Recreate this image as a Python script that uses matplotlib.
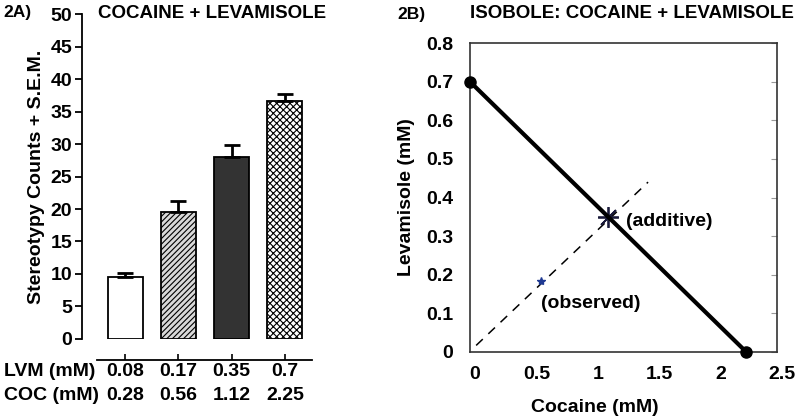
import numpy as np
import matplotlib
matplotlib.use("Agg")
import matplotlib.pyplot as plt
import matplotlib.transforms as mtrans

plt.rcParams['font.family'] = ['Liberation Sans', 'DejaVu Sans']
plt.rcParams['font.weight'] = 'bold'
plt.rcParams['axes.labelweight'] = 'bold'
plt.rcParams['hatch.linewidth'] = 0.8

# panel A data
lvm_labels = ['0.08', '0.17', '0.35', '0.7']
coc_labels = ['0.28', '0.56', '1.12', '2.25']
counts = [9.6, 19.6, 28.0, 36.6]
sem = [0.5, 1.6, 1.8, 1.1]

# panel B data
iso_x = [0.0, 2.25]
iso_y = [0.7, 0.0]
ray_x = [0.05, 1.45]
ray_y = [0.017, 0.44]
additive_pt = (1.12, 0.35)
observed_pt = (0.58, 0.185)

FS = 14

fig = plt.figure(figsize=(8, 4.18), dpi=100)

# ---- 2A bar chart
ax = fig.add_axes([0.1025, 0.189, 0.2875, 0.7775])
x = np.arange(len(counts))
faces = ['white', '#d9d9d9', '#333333', 'white']
hatches = [None, '//////', None, 'xxxxx']
for i in range(len(counts)):
    ax.bar(x[i], counts[i], 0.66, color=faces[i], edgecolor='black',
           hatch=hatches[i], linewidth=1.3)
ax.errorbar(x, counts, yerr=[np.zeros(len(sem)), sem], fmt='none',
            ecolor='black', elinewidth=2, capsize=6, capthick=2)
ax.set_xlim(-0.81, 3.51)
ax.set_ylim(0, 50)
ax.set_yticks(np.arange(0, 51, 5))
ax.tick_params(axis='y', labelsize=FS, width=1.3, length=5, pad=2)
ax.spines['top'].set_visible(False)
ax.spines['right'].set_visible(False)
ax.spines['left'].set_linewidth(1.3)
ax.spines['bottom'].set_position(('outward', 15))
ax.spines['bottom'].set_bounds(-0.52, 3.51)
ax.spines['bottom'].set_linewidth(1.3)
ax.set_xticks(x)
ax.set_xticklabels([])
ax.tick_params(axis='x', length=4, width=1.2, direction='in')
ax.set_ylabel('Stereotypy Counts + S.E.M.', fontsize=FS, labelpad=4)

tr = mtrans.blended_transform_factory(ax.transData, fig.transFigure)
for i in range(len(counts)):
    ax.text(x[i], 1 - 372 / 418, lvm_labels[i], transform=tr, ha='center',
            va='center', fontsize=FS)
    ax.text(x[i], 1 - 396 / 418, coc_labels[i], transform=tr, ha='center',
            va='center', fontsize=FS)
fig.text(4 / 800, 1 - 372 / 418, 'LVM (mM)', ha='left', va='center', fontsize=FS)
fig.text(4 / 800, 1 - 396 / 418, 'COC (mM)', ha='left', va='center', fontsize=FS)
fig.text(3 / 800, 1 - 13 / 418, '2A)', ha='left', va='center', fontsize=12.5)
fig.text(212 / 800, 1 - 14 / 418, 'COCAINE + LEVAMISOLE', ha='center',
         va='center', fontsize=13.5)

# ---- 2B isobole
ax2 = fig.add_axes([0.5875, 0.1579, 0.38375, 0.739])
ax2.plot(iso_x, iso_y, color='black', linewidth=3, marker='o', markersize=8,
         clip_on=False, zorder=3)
ax2.plot(ray_x, ray_y, color='black', linewidth=1.1, dashes=(6, 5))
ax2.plot(*additive_pt, marker=(8, 2, 0), markersize=15, color='#1a1a3a',
         markeredgewidth=1.3, linestyle='none')
ax2.plot(*observed_pt, marker='*', markersize=6, color='#1f3a93',
         linestyle='none')
ax2.text(1.27, 0.337, '(additive)', fontsize=FS, va='center', ha='left')
ax2.text(0.58, 0.125, '(observed)', fontsize=FS, va='center', ha='left')
ax2.set_xlim(0, 2.5)
ax2.set_ylim(0, 0.8)
ax2.set_xticks(np.arange(0, 2.51, 0.5))
ax2.set_xticklabels(['0', '0.5', '1', '1.5', '2', '2.5'])
ax2.set_yticks(np.arange(0, 0.81, 0.1))
ax2.set_yticklabels(['0', '0.1', '0.2', '0.3', '0.4', '0.5', '0.6', '0.7', '0.8'])
ax2.tick_params(axis='x', length=0, labelsize=FS, pad=10)
ax2.tick_params(axis='y', left=False, right=True, direction='in', length=4,
                color='#999999', labelsize=FS, pad=12)
for lab in ax2.get_xticklabels():
    lab.set_transform(lab.get_transform() +
                      mtrans.ScaledTranslation(5 / 100, 0, fig.dpi_scale_trans))
for sp in ax2.spines.values():
    sp.set_linewidth(1.2)
    sp.set_color('#333333')
ax2.set_ylabel('Levamisole (mM)', fontsize=FS, labelpad=8)
fig.text(595 / 800, 1 - 407 / 418, 'Cocaine (mM)', ha='center', va='center',
         fontsize=FS)
fig.text(397 / 800, 1 - 14 / 418, '2B)', ha='left', va='center', fontsize=12.5)
fig.text(632 / 800, 1 - 14 / 418, 'ISOBOLE: COCAINE + LEVAMISOLE', ha='center',
         va='center', fontsize=13.5)

fig.savefig('out.png', dpi=100)
